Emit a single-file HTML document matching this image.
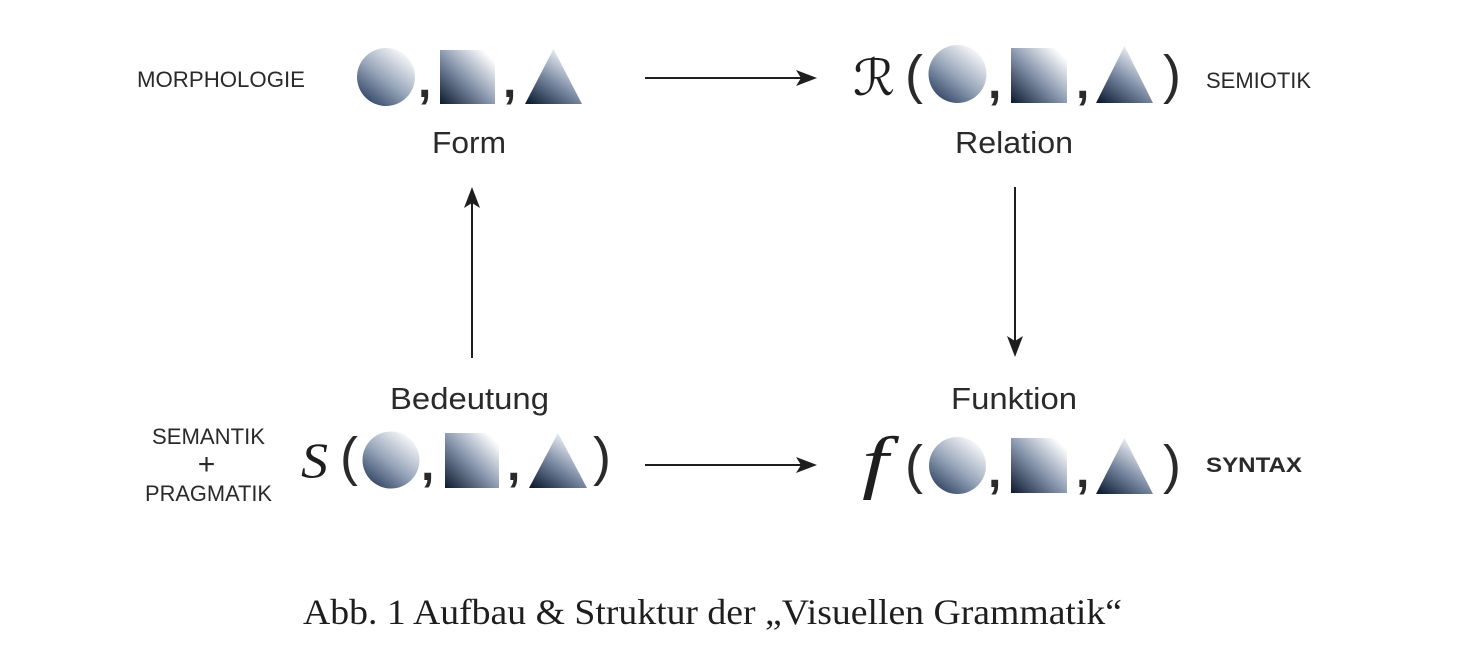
<!DOCTYPE html>
<html><head><meta charset="utf-8"><style>
html,body{margin:0;padding:0;background:#fff;}
svg{display:block;}
.sans{font-family:"Liberation Sans",Arial,sans-serif;fill:#2a2a2a;}
.serif{font-family:"Liberation Serif","Times New Roman",serif;fill:#1e1e1e;}
</style></head><body>
<svg width="1474" height="664" viewBox="0 0 1474 664" xmlns="http://www.w3.org/2000/svg">
<defs>
<linearGradient id="gc" x1="0.15" y1="0.95" x2="0.85" y2="0.05">
<stop offset="0" stop-color="#2e4262"/><stop offset="0.45" stop-color="#95a3b8"/><stop offset="1" stop-color="#ffffff"/>
</linearGradient>
<linearGradient id="gs" x1="0" y1="1" x2="1" y2="0">
<stop offset="0" stop-color="#0c1a2e"/><stop offset="0.45" stop-color="#8190a8"/><stop offset="0.9" stop-color="#ffffff"/>
</linearGradient>
<linearGradient id="gt" x1="0.1" y1="1" x2="0.75" y2="0.1">
<stop offset="0" stop-color="#101f36"/><stop offset="0.5" stop-color="#7a8aa3"/><stop offset="1" stop-color="#f7f8fb"/>
</linearGradient>
</defs>

<!-- Top-left: Form -->
<text class="sans" x="137" y="87" font-size="22" textLength="168" lengthAdjust="spacingAndGlyphs">MORPHOLOGIE</text>
<circle cx="386" cy="77" r="29" fill="url(#gc)"/>
<text class="sans" x="418" y="97" font-size="48" font-weight="bold" fill="#1e1e1e">,</text>
<rect x="440" y="50" width="55" height="54" fill="url(#gs)"/>
<text class="sans" x="503" y="97" font-size="48" font-weight="bold" fill="#1e1e1e">,</text>
<polygon points="525,104 582,104 553.5,49" fill="url(#gt)"/>
<text class="sans" x="469" y="153" font-size="31" text-anchor="middle" textLength="74" lengthAdjust="spacingAndGlyphs">Form</text>

<!-- Top-right: Relation -->
<text x="853" y="95" font-size="50" font-family="'DejaVu Serif','DejaVu Sans',serif" fill="#1e1e1e" textLength="42" lengthAdjust="spacingAndGlyphs">ℛ</text>
<text class="sans" x="905" y="93" font-size="54" fill="#1e1e1e">(</text>
<circle cx="957.5" cy="74" r="29" fill="url(#gc)"/>
<text class="sans" x="988" y="98" font-size="48" font-weight="bold" fill="#1e1e1e">,</text>
<rect x="1011" y="48" width="56" height="55" fill="url(#gs)"/>
<text class="sans" x="1076" y="98" font-size="48" font-weight="bold" fill="#1e1e1e">,</text>
<polygon points="1096,103 1153,103 1124.5,46" fill="url(#gt)"/>
<text class="sans" x="1163" y="93" font-size="54" fill="#1e1e1e">)</text>
<text class="sans" x="1014" y="153" font-size="31" text-anchor="middle" textLength="118" lengthAdjust="spacingAndGlyphs">Relation</text>
<text class="sans" x="1206" y="88" font-size="22" textLength="105" lengthAdjust="spacingAndGlyphs">SEMIOTIK</text>

<!-- Arrows -->
<g stroke="#1e1e1e" stroke-width="2">
<line x1="645" y1="78" x2="802" y2="78"/>
<line x1="472" y1="358" x2="472" y2="202"/>
<line x1="1015" y1="187" x2="1015" y2="342"/>
<line x1="645" y1="465" x2="802" y2="465"/>
</g>
<g fill="#1e1e1e">
<polygon points="817,78 796,70 801,78 796,86"/>
<polygon points="472,187 464,208 472,203 480,208"/>
<polygon points="1015,357 1007,336 1015,341 1023,336"/>
<polygon points="817,465 796,457 801,465 796,473"/>
</g>

<!-- Bottom-left: Bedeutung -->
<text class="sans" x="469.5" y="409" font-size="31" text-anchor="middle" textLength="159" lengthAdjust="spacingAndGlyphs">Bedeutung</text>
<text class="sans" x="208.5" y="444" font-size="22" text-anchor="middle" textLength="113" lengthAdjust="spacingAndGlyphs">SEMANTIK</text>
<text class="sans" x="206.5" y="474" font-size="30" text-anchor="middle" font-weight="300">+</text>
<text class="sans" x="208.5" y="501" font-size="22" text-anchor="middle" textLength="127" lengthAdjust="spacingAndGlyphs">PRAGMATIK</text>
<text class="serif" x="301" y="477" font-size="50" font-style="italic" textLength="27" lengthAdjust="spacingAndGlyphs">S</text>
<text class="sans" x="340" y="475" font-size="54" fill="#1e1e1e">(</text>
<circle cx="391" cy="460" r="28.5" fill="url(#gc)"/>
<text class="sans" x="421" y="480" font-size="48" font-weight="bold" fill="#1e1e1e">,</text>
<rect x="445" y="433" width="54" height="55" fill="url(#gs)"/>
<text class="sans" x="507" y="480" font-size="48" font-weight="bold" fill="#1e1e1e">,</text>
<polygon points="529,488 587,488 558,433" fill="url(#gt)"/>
<text class="sans" x="593" y="475" font-size="54" fill="#1e1e1e">)</text>

<!-- Bottom-right: Funktion -->
<text class="sans" x="1014" y="409" font-size="31" text-anchor="middle" textLength="126" lengthAdjust="spacingAndGlyphs">Funktion</text>
<text class="serif" transform="translate(862,485) scale(1.35,1)" x="0" y="0" font-size="70" font-style="italic">f</text>
<text class="sans" x="905" y="483" font-size="54" fill="#1e1e1e">(</text>
<circle cx="957.5" cy="465.5" r="28.5" fill="url(#gc)"/>
<text class="sans" x="988" y="487" font-size="48" font-weight="bold" fill="#1e1e1e">,</text>
<rect x="1011" y="438" width="56" height="55" fill="url(#gs)"/>
<text class="sans" x="1076" y="487" font-size="48" font-weight="bold" fill="#1e1e1e">,</text>
<polygon points="1096,494 1153,494 1124.5,438" fill="url(#gt)"/>
<text class="sans" x="1163" y="483" font-size="54" fill="#1e1e1e">)</text>
<text class="sans" x="1206" y="472" font-size="21" font-weight="bold" fill="#1e1e1e" textLength="96" lengthAdjust="spacingAndGlyphs">SYNTAX</text>

<!-- Caption -->
<text class="serif" x="303" y="624" font-size="36" textLength="819" lengthAdjust="spacingAndGlyphs">Abb. 1 Aufbau &amp; Struktur der „Visuellen Grammatik“</text>
</svg>
</body></html>
